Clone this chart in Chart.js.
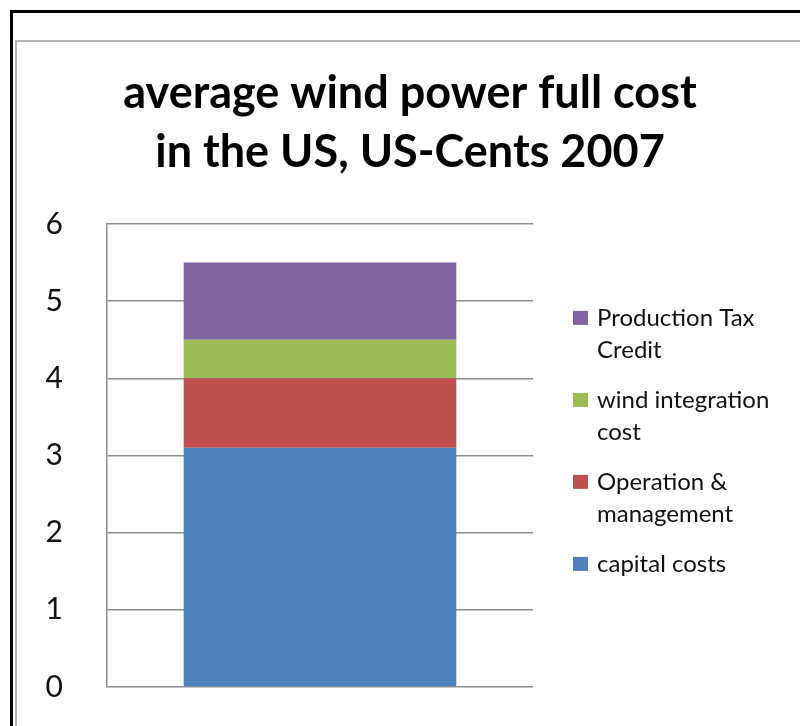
<!DOCTYPE html>
<html>
<head>
<meta charset="utf-8">
<script src="https://cdn.jsdelivr.net/npm/chart.js@4.4.0/dist/chart.umd.min.js"></script>
<style>
  html, body { margin: 0; padding: 0; background: #fff; overflow: hidden; }
  #frame { position: absolute; left: 10px; top: 10px; width: 900px; height: 900px; border-top: 3px solid #000; border-left: 3px solid #000; }
  #inner { position: absolute; left: 15px; top: 40px; width: 900px; height: 900px; border-top: 2px solid #b4b4b4; border-left: 2px solid #b4b4b4; }
  #wrap { position: absolute; left: 0; top: 0; width: 800px; height: 726px; }
</style>
</head>
<body>
<div id="frame"></div>
<div id="inner"></div>
<div id="wrap"><canvas id="chart" width="800" height="726"></canvas></div>
<script>
const categories = [''];
const seriesNames = ['capital costs', 'Operation & management', 'wind integration cost', 'Production Tax Credit'];
const legendLines = [['capital costs'], ['Operation &', 'management'], ['wind integration', 'cost'], ['Production Tax', 'Credit']];
const capitalCosts = [3.1];
const operationManagement = [0.9];
const windIntegration = [0.5];
const productionTaxCredit = [1.0];
const seriesColors = ['#4F81BD', '#C0504D', '#9BBB59', '#8064A2'];
const titleLines = ['average wind power full cost', 'in the US, US-Cents 2007'];

const FONT = 'Lato';

// legend drawn by hand so the labels can wrap like the original
const sideLegend = {
  id: 'sideLegend',
  afterDraw(chart) {
    const ctx = chart.ctx;
    const area = chart.chartArea;
    const boxX = area.right + 40;
    const textX = area.right + 64;
    let y = area.top + 94;
    ctx.save();
    ctx.font = '24px ' + FONT;
    ctx.textBaseline = 'middle';
    for (let i = chart.data.datasets.length - 1; i >= 0; i--) {
      const ds = chart.data.datasets[i];
      ctx.fillStyle = ds.backgroundColor;
      ctx.fillRect(boxX, y - 7, 15, 14);
      ctx.fillStyle = '#111';
      legendLines[i].forEach((line, j) => {
        ctx.fillText(line, textX, y + j * 32);
      });
      y += (legendLines[i].length - 1) * 32 + 50;
    }
    ctx.restore();
  }
};

new Chart(document.getElementById('chart'), {
  type: 'bar',
  data: {
    labels: categories,
    datasets: [
      { label: seriesNames[0], data: capitalCosts, backgroundColor: seriesColors[0] },
      { label: seriesNames[1], data: operationManagement, backgroundColor: seriesColors[1] },
      { label: seriesNames[2], data: windIntegration, backgroundColor: seriesColors[2] },
      { label: seriesNames[3], data: productionTaxCredit, backgroundColor: seriesColors[3] }
    ]
  },
  options: {
    responsive: false,
    animation: false,
    layout: { padding: { left: 20, right: 0, top: 0, bottom: 39 } },
    datasets: { bar: { barPercentage: 1, categoryPercentage: 0.64 } },
    plugins: {
      legend: { display: false },
      tooltip: { enabled: false },
      title: {
        display: true,
        text: titleLines,
        color: '#000',
        font: { family: FONT, size: 45, weight: 'bold', lineHeight: 1.31 },
        padding: { top: 64, bottom: 42 }
      }
    },
    scales: {
      x: { stacked: true, display: false },
      y: {
        stacked: true,
        min: 0,
        max: 6,
        ticks: { stepSize: 1, padding: 44, color: '#111', font: { family: FONT, size: 30 } },
        grid: { color: '#8c8c8c', lineWidth: 1.5, drawTicks: false },
        border: { color: '#8c8c8c', width: 1.5 },
        afterFit(scale) {
          scale.width = 87;
          // the wide tick padding should not eat into the plot height
          scale.paddingTop = 0;
          scale.paddingBottom = 0;
        }
      },
      legendSpace: {
        type: 'linear',
        position: 'right',
        grid: { display: false },
        border: { display: false },
        ticks: { display: false },
        afterFit(scale) { scale.width = 267; }
      }
    }
  },
  plugins: [sideLegend]
});
</script>
</body>
</html>
